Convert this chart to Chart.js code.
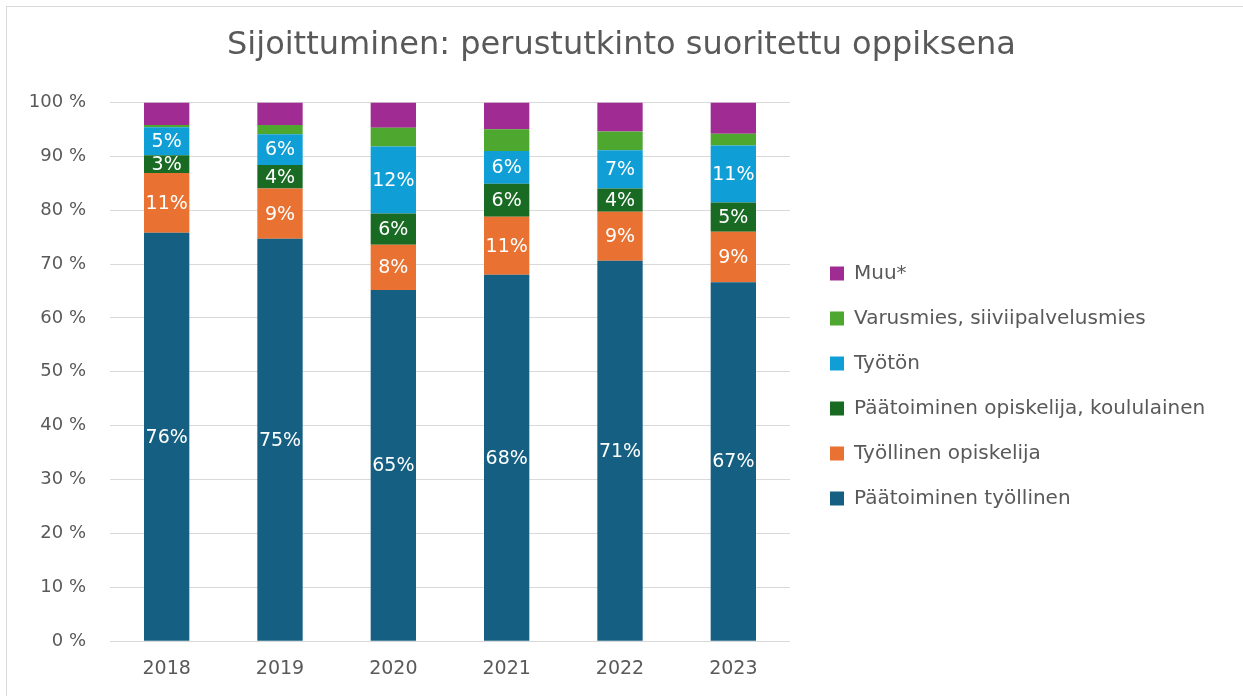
<!DOCTYPE html>
<html>
<head>
<meta charset="utf-8">
<script src="https://cdn.jsdelivr.net/npm/chart.js@4.4.1/dist/chart.umd.min.js"></script>
<style>
  html, body { margin: 0; padding: 0; background: #fff; overflow: hidden; }
  #frame { position: absolute; left: 6px; top: 6px; width: 1400px; height: 900px; border: 1px solid #d9d9d9; }
  #wrap { position: absolute; left: 0; top: 0; width: 1243px; height: 696px; }
</style>
</head>
<body>
<div id="frame"></div>
<div id="wrap"><canvas id="chart" width="1243" height="696"></canvas></div>
<script>
// vuodet
var years = ['2018', '2019', '2020', '2021', '2022', '2023'];

// osuudet prosentteina, luettu kuvasta
var paatoiminenTyollinen = [75.8, 74.7, 65.2, 68.0, 70.6, 66.6];
var tyollinenOpiskelija  = [11.1,  9.3,  8.4, 10.8,  9.1,  9.4];
var paatoiminenOpiskelija = [3.3,  4.4,  5.8,  6.1,  4.3,  5.4];
var tyoton               = [5.2,  5.7, 12.4,  6.1,  7.1, 10.6];
var varusmies            = [0.4,  1.7,  3.5,  4.0,  3.5,  2.2];
var muu                  = [4.2,  4.2,  4.7,  5.0,  5.4,  5.8];

var yTicks = [0, 10, 20, 30, 40, 50, 60, 70, 80, 90, 100];

var textColor = '#595959';
var fontFamily = '"DejaVu Sans", "Open Sans", sans-serif';

// labels inside the bars (only the four lowest series)
var barLabels = {
    id: 'barLabels',
    afterDatasetsDraw: function(chart) {
        var ctx = chart.ctx;
        ctx.save();
        ctx.fillStyle = '#ffffff';
        ctx.font = '19px ' + fontFamily;
        ctx.textAlign = 'center';
        ctx.textBaseline = 'middle';
        chart.data.datasets.forEach(function(ds, di) {
            if (!ds.showLabel) return;
            var meta = chart.getDatasetMeta(di);
            meta.data.forEach(function(bar, i) {
                var p = bar.getProps(['x', 'y', 'base'], true);
                ctx.fillText(Math.round(ds.data[i]) + '%', p.x, (p.y + p.base) / 2 + 1);
            });
        });
        ctx.restore();
    }
};

// fixed legend width and a gap between plot and legend
var LEGEND_WIDTH = 453;
var LEGEND_SHIFT = 15;
var LEGEND_DY = 38;
var legendPlace = {
    id: 'legendPlace',
    beforeInit: function(chart) {
        var legend = chart.legend;
        var origFit = legend.fit;
        legend.fit = function() {
            origFit.call(this);
            this.width = LEGEND_WIDTH;
        };
    },
    afterLayout: function(chart) {
        chart.legend.left += LEGEND_SHIFT;
        chart.legend.top += LEGEND_DY;
        chart.legend.bottom += LEGEND_DY;
    }
};

var ctx = document.getElementById('chart');

var chart = new Chart(ctx, {
    type: 'bar',
    data: {
        labels: years,
        datasets: [
            { label: 'Päätoiminen työllinen', data: paatoiminenTyollinen, backgroundColor: '#156082', showLabel: true },
            { label: 'Työllinen opiskelija', data: tyollinenOpiskelija, backgroundColor: '#E97132', showLabel: true },
            { label: 'Päätoiminen opiskelija, koululainen', data: paatoiminenOpiskelija, backgroundColor: '#196B24', showLabel: true },
            { label: 'Työtön', data: tyoton, backgroundColor: '#0F9ED5', showLabel: true },
            { label: 'Varusmies, siiviipalvelusmies', data: varusmies, backgroundColor: '#4EA72E', showLabel: false },
            { label: 'Muu*', data: muu, backgroundColor: '#A02B93', showLabel: false }
        ]
    },
    options: {
        responsive: false,
        animation: false,
        devicePixelRatio: 1,
        layout: { padding: { left: 0, right: 0, top: 0, bottom: 0 } },
        datasets: {
            bar: { categoryPercentage: 1.0, barPercentage: 0.4, borderWidth: 0 }
        },
        plugins: {
            title: {
                display: true,
                text: 'Sijoittuminen: perustutkinto suoritettu oppiksena',
                color: textColor,
                font: { family: fontFamily, size: 32, weight: 'normal', lineHeight: 1.2 },
                padding: { top: 26, bottom: 38 }
            },
            legend: {
                position: 'right',
                reverse: true,
                labels: {
                    color: textColor,
                    font: { family: fontFamily, size: 20 },
                    boxWidth: 14,
                    boxHeight: 14,
                    padding: 25
                }
            },
            tooltip: { enabled: false }
        },
        scales: {
            x: {
                stacked: true,
                grid: { display: false, drawTicks: false },
                border: { display: false },
                ticks: { color: textColor, font: { family: fontFamily, size: 19 }, padding: 16 }
            },
            y: {
                stacked: true,
                min: 0,
                max: 100,
                afterFit: function(scale) { scale.width = 110; },
                afterBuildTicks: function(scale) {
                    scale.ticks = yTicks.map(function(v) { return { value: v }; });
                },
                grid: { color: '#d9d9d9', lineWidth: 1, drawTicks: false },
                border: { display: false },
                ticks: {
                    color: textColor,
                    font: { family: fontFamily, size: 18 },
                    padding: 24,
                    callback: function(v) { return v + ' %'; }
                }
            }
        }
    },
    plugins: [barLabels, legendPlace]
});
</script>
</body>
</html>
